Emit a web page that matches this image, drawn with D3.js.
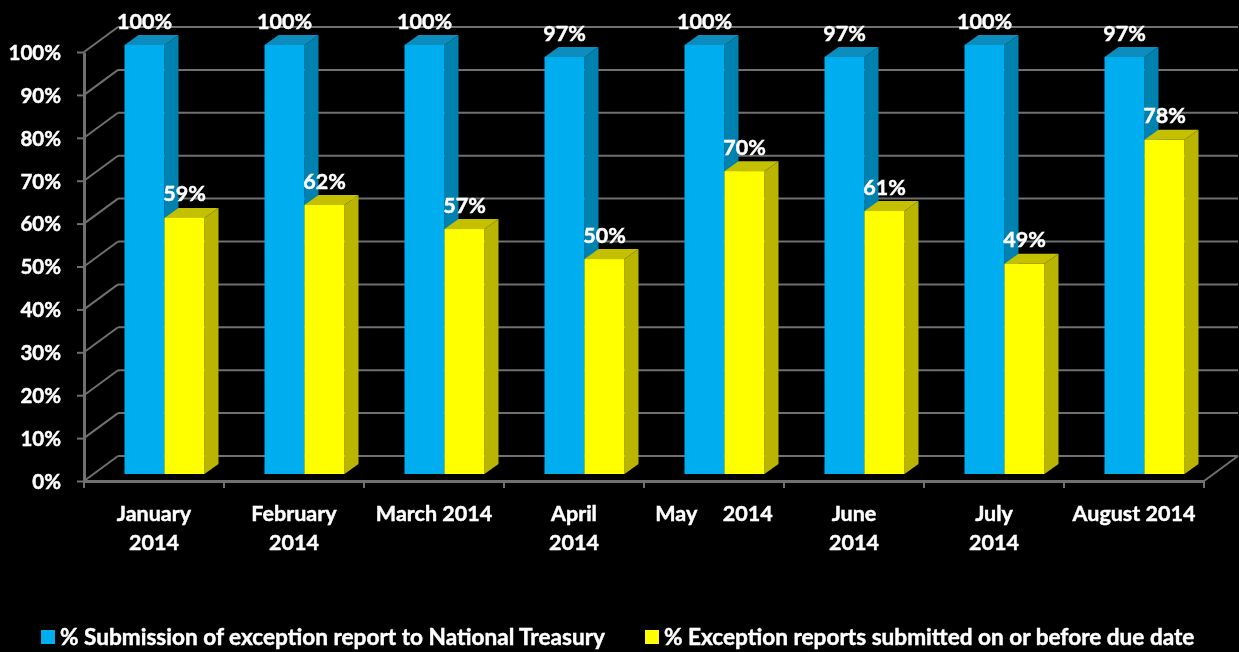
<!DOCTYPE html>
<html>
<head>
<meta charset="utf-8">
<script src="https://cdn.jsdelivr.net/npm/d3@7"></script>
<style>
html, body { margin: 0; padding: 0; background: #000; overflow: hidden; }
text { font-family: Lato, "Open Sans", sans-serif; font-weight: 700; fill: #fff; stroke: #fff; stroke-width: 0.45px; }
</style>
</head>
<body>
<div id="chart"></div>
<script>
const categories = ["January 2014", "February 2014", "March 2014", "April 2014", "May 2014", "June 2014", "July 2014", "August 2014"];
const categoryLines = [["January", "2014"], ["February", "2014"], ["March 2014"], ["April", "2014"], ["May     2014"], ["June", "2014"], ["July", "2014"], ["August 2014"]];
const seriesNames = ["% Submission of exception report to National Treasury", "% Exception reports submitted on or before due date"];
const submission = [100, 100, 100, 97.2, 100, 97.2, 100, 97.2];
const onTime = [59.7, 62.7, 57.1, 50.1, 70.6, 61.3, 49, 77.9];
const submissionLabels = ["100%", "100%", "100%", "97%", "100%", "97%", "100%", "97%"];
const onTimeLabels = ["59%", "62%", "57%", "50%", "70%", "61%", "49%", "78%"];
const yTicks = [0, 10, 20, 30, 40, 50, 60, 70, 80, 90, 100];

const width = 1239, height = 652;
const wall = { dx: 34, dy: -25 };   // depth of the 3d box
const floor = { dx: 10.5, dy: -7 };   // bars stand a bit in from the front edge
const depth = { dx: 14, dy: -10 };  // depth of one bar

const svg = d3.select("#chart").append("svg")
    .attr("width", width)
    .attr("height", height)
    .style("display", "block");

const defs = svg.append("defs");
defs.append("filter").attr("id", "soft")
    .append("feGaussianBlur").attr("stdDeviation", 0.5);

const xScale = d3.scaleBand().domain(categories).range([84, 1204]);
const xInner = d3.scaleBand().domain([0, 1]).range([0, xScale.bandwidth()]).paddingOuter(0.75);
const yScale = d3.scaleLinear().domain([0, 100]).range([481, 52]);

const chart = svg.append("g").attr("filter", "url(#soft)");

// back wall and side wall
const grid = chart.append("g")
    .attr("stroke", "#6f6f6f")
    .attr("stroke-width", 2)
    .attr("fill", "none");

grid.selectAll(".back")
    .data(yTicks)
    .join("line")
    .attr("x1", xScale.range()[0] + wall.dx)
    .attr("x2", xScale.range()[1] + wall.dx)
    .attr("y1", d => yScale(d) + wall.dy)
    .attr("y2", d => yScale(d) + wall.dy);

grid.selectAll(".side")
    .data(yTicks)
    .join("line")
    .attr("x1", xScale.range()[0])
    .attr("x2", xScale.range()[0] + wall.dx)
    .attr("y1", d => yScale(d))
    .attr("y2", d => yScale(d) + wall.dy);

grid.append("line")
    .attr("x1", xScale.range()[1])
    .attr("x2", xScale.range()[1] + wall.dx)
    .attr("y1", yScale(0))
    .attr("y2", yScale(0) + wall.dy);

// one 3d column: side, top, then the front
function drawBars(values, index, front, side, top) {
    const g = chart.append("g");
    const x0 = (d, i) => xScale(categories[i]) + xInner(index) + floor.dx;
    const w = xInner.bandwidth();
    const y0 = yScale(0) + floor.dy;
    const yTop = d => yScale(d) + floor.dy;

    g.selectAll(".bar-side")
        .data(values)
        .join("polygon")
        .attr("fill", side)
        .attr("points", (d, i) => {
            const x = x0(d, i) + w;
            return [[x, yTop(d)], [x + depth.dx, yTop(d) + depth.dy], [x + depth.dx, y0 + depth.dy], [x, y0]].join(" ");
        });

    g.selectAll(".bar-top")
        .data(values)
        .join("polygon")
        .attr("fill", top)
        .attr("points", (d, i) => {
            const x = x0(d, i);
            return [[x, yTop(d)], [x + depth.dx, yTop(d) + depth.dy], [x + w + depth.dx, yTop(d) + depth.dy], [x + w, yTop(d)]].join(" ");
        });

    g.selectAll(".bar-front")
        .data(values)
        .join("rect")
        .attr("fill", front)
        .attr("x", x0)
        .attr("y", yTop)
        .attr("width", w)
        .attr("height", d => y0 - yTop(d));
}

drawBars(submission, 0, "#00aeef", "#0682b0", "#0b8dbd");
drawBars(onTime, 1, "#ffff00", "#b9b500", "#c4c000");

// axes
const yAxis = chart.append("g")
    .attr("transform", `translate(${xScale.range()[0]},0)`)
    .call(d3.axisLeft(yScale).tickValues(yTicks).tickFormat(d => d + "%").tickSize(7).tickSizeOuter(0));

const xAxis = chart.append("g")
    .attr("transform", `translate(0,${yScale(0)})`)
    .call(d3.axisBottom(xScale).tickFormat("").tickSize(0).tickSizeOuter(0));

xAxis.selectAll(".cat-tick")
    .data(d3.range(categories.length + 1))
    .join("line")
    .attr("stroke", "#6f6f6f")
    .attr("stroke-width", 2)
    .attr("x1", i => xScale.range()[0] + i * xScale.step())
    .attr("x2", i => xScale.range()[0] + i * xScale.step())
    .attr("y1", 0)
    .attr("y2", 7);

svg.selectAll(".domain").attr("stroke", "#6f6f6f").attr("stroke-width", 3);
yAxis.selectAll(".tick line").attr("stroke", "#6f6f6f").attr("stroke-width", 2);
yAxis.selectAll("text")
    .attr("x", -23)
    .attr("dy", "0.36em")
    .style("font-size", "20.5px")
    .style("font-family", "Lato, sans-serif");

// category labels
const catLabels = chart.append("g").style("font-size", "21.5px").attr("text-anchor", "middle");
catLabels.selectAll("text")
    .data(categoryLines)
    .join("text")
    .attr("y", 521)
    .style("white-space", "pre")
    .each(function(lines, i) {
        d3.select(this).selectAll("tspan")
            .data(lines)
            .join("tspan")
            .attr("x", xScale(categories[i]) + xScale.bandwidth() / 2)
            .attr("dy", (d, j) => j === 0 ? 0 : 28.5)
            .attr("xml:space", "preserve")
            .text(d => d);
    });

// value labels
function drawValues(values, labels, index) {
    chart.append("g")
        .attr("text-anchor", "middle")
        .style("font-size", "21.5px")
        .selectAll("text")
        .data(values)
        .join("text")
        .attr("x", (d, i) => xScale(categories[i]) + xInner(index) + floor.dx + xInner.bandwidth() / 2)
        .attr("y", d => yScale(d) + floor.dy - 16.5)
        .text((d, i) => labels[i]);
}
drawValues(submission, submissionLabels, 0);
drawValues(onTime, onTimeLabels, 1);

// legend
const legendX = d3.scaleOrdinal().domain(seriesNames).range([41, 645]);
const legendColor = d3.scaleOrdinal().domain(seriesNames).range(["#00aeef", "#ffff00"]);
const legend = chart.append("g").selectAll("g")
    .data(seriesNames)
    .join("g")
    .attr("transform", d => `translate(${legendX(d)},630)`);
legend.append("rect")
    .attr("width", 14)
    .attr("height", 14)
    .attr("fill", d => legendColor(d));
legend.append("text")
    .attr("x", 19)
    .attr("y", 15)
    .style("font-size", "22.6px")
    .text(d => d);
</script>
</body>
</html>
